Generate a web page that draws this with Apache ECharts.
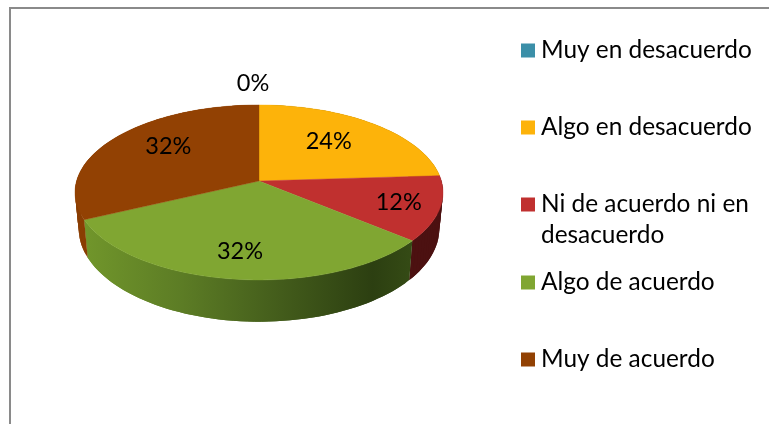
<!DOCTYPE html>
<html>
<head>
<meta charset="utf-8">
<script src="https://cdn.jsdelivr.net/npm/echarts@6/dist/echarts.min.js"></script>
<style>
  html, body { margin: 0; padding: 0; background: #fff; }
  #chart { width: 769px; height: 424px; overflow: hidden; }
</style>
</head>
<body>
<div id="chart"></div>
<script>
const categories = ['Muy en desacuerdo', 'Algo en desacuerdo', 'Ni de acuerdo ni en desacuerdo', 'Algo de acuerdo', 'Muy de acuerdo']
const shares = [0, 24, 12, 32, 32]

const colors = ['#3B8FA8', '#FDB30A', '#C0302F', '#80A632', '#924103']
const wallColors = ['#2a6577', '#b37f07', '#4c1111', null, '#8a3e03']
const labelRadius = [1.34, 0.59, 0.78, 0.75, 0.6]
const labelNudge = [[-6, 0], [0, -5], [0, 0], [0, 0], [-2, -8]]
const legendTops = [49, 126, 203, 281, 358]

const fontName = 'Lato'
const total = shares.reduce((a, b) => a + b, 0)

// the pie is a tilted disc, so points go through a small perspective
const cx = 259, cy = 181, radiusX = 182.4, radiusY = 86, persp = 0.131
const project = (deg, f) => {
  const t = deg * Math.PI / 180
  const w = 1 + persp * f * Math.cos(t)
  return [cx + radiusX * f * Math.sin(t) / w, cy - radiusY * f * Math.cos(t) / w]
}
const projectBase = (deg) => {
  const p = project(deg, 1)
  return [cx + (p[0] - cx) * 0.98, cy + 35.4 + (p[1] - cy) * 1.064]
}
const arc = (from, to, fn) => {
  const pts = []
  const steps = Math.max(2, Math.ceil((to - from) / 2))
  for (let i = 0; i <= steps; i++) pts.push(fn(from + (to - from) * i / steps))
  return pts
}

const wallFill = (i) => {
  if (wallColors[i]) return wallColors[i]
  return new echarts.graphic.LinearGradient(84, 0, 412, 0, [
    { offset: 0, color: '#71962b' },
    { offset: 0.3, color: '#5c7c25' },
    { offset: 0.6, color: '#435c1b' },
    { offset: 0.88, color: '#2c3f11' },
    { offset: 1, color: '#354b15' }
  ], true)
}

const renderSlice = (params, api) => {
  const i = params.seriesIndex
  const value = api.value(0)
  const before = shares.slice(0, i).reduce((a, b) => a + b, 0)
  const from = before / total * 360
  const to = (before + value) / total * 360
  const mid = (from + to) / 2
  const children = []

  if (value > 0) {
    const top = arc(from, to, d => project(d, 1))
    const base = arc(from, to, projectBase)
    // wall as overlapping quads, one big polygon cancels itself where it twists at the sides
    const fill = wallFill(i)
    for (let k = 0; k < top.length - 1; k++) {
      const n = Math.min(k + 2, top.length - 1)
      children.push({
        type: 'polygon', z2: 1,
        shape: { points: [top[k], top[k + 1], top[n], base[n], base[k + 1], base[k]] },
        style: { fill }
      })
    }
    children.push({
      type: 'polygon', z2: 2,
      shape: { points: [[cx, cy]].concat(top) },
      style: { fill: colors[i], stroke: colors[i], lineWidth: 0.4 }
    })
  }

  const pos = project(mid, labelRadius[i])
  children.push({
    type: 'text', z2: 3,
    x: pos[0] + labelNudge[i][0],
    y: pos[1] + labelNudge[i][1],
    style: {
      text: shares[i] + '%',
      fill: '#000',
      font: '23.5px ' + fontName,
      align: 'center',
      verticalAlign: 'middle'
    }
  })
  return { type: 'group', children }
}

const chart = echarts.init(document.getElementById('chart'), null, { renderer: 'canvas' })

chart.setOption({
  backgroundColor: '#fff',
  animation: false,
  graphic: [
    { type: 'polyline', silent: true, shape: { points: [[10, 430], [10, 8], [775, 8]] }, style: { fill: null, stroke: '#8a8a8a', lineWidth: 2 } }
  ],
  legend: categories.map((name, i) => ({
    data: [name],
    left: 521,
    top: legendTops[i] - (i === 2 ? 46.5 : 15.5),
    padding: 0,
    itemWidth: 14,
    itemHeight: 14,
    icon: 'rect',
    selectedMode: false,
    formatter: n => i === 2 ? '\nNi de acuerdo ni en\ndesacuerdo' : n,
    textStyle: { color: '#000', fontFamily: fontName, fontSize: 24.4, lineHeight: 31, padding: [3, 0, 0, 1] }
  })),
  series: categories.map((name, i) => ({
    type: 'custom',
    name,
    coordinateSystem: 'none',
    silent: true,
    color: colors[i],
    renderItem: renderSlice,
    data: [[shares[i]]]
  }))
})
</script>
</body>
</html>
